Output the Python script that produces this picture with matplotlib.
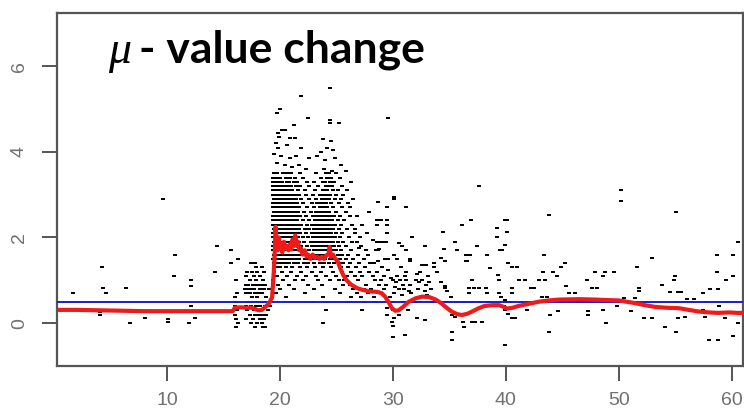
import matplotlib
matplotlib.use("Agg")
import matplotlib.pyplot as plt

# ---- scattered observations (x, y) ----
sparse_x = [1.65, 4.2, 4.3, 4.6, 4.1, 4.1, 6.4, 6.7, 8.05, 9.65, 10.6, 10.7, 10.1, 10.1,
            12.1, 12.1, 12.1, 11.9, 12.5, 14.4, 14.2, 15.7, 16.3, 15.7,
            19.7, 20.0, 21.9, 24.4, 22.5, 24.4, 24.4, 25.2, 21.2, 20.2, 20.4, 19.8, 19.9,
            20.9, 21.3, 19.6, 19.8, 20.6, 21.9, 23.8, 24.5, 24.2, 24.7, 23.6, 19.5, 20.1,
            20.9, 21.4, 22.6, 23.3, 24.0, 24.9, 25.4, 19.7, 20.4, 21.1, 21.7, 22.3, 23.9,
            24.6, 25.8, 26.3, 25.9, 26.5,
            26.2, 26.8, 27.3, 27.9, 28.6, 28.9, 28.6, 29.5, 29.5, 29.5, 28.7, 29.5, 30.1,
            30.1, 31.2, 26.6, 27.1, 27.7, 28.2, 28.6, 28.8, 29.0, 29.4, 28.5, 28.7, 28.8,
            29.6, 29.3, 28.7, 26.4, 27.0, 27.8, 28.3, 29.0, 29.6, 28.6, 29.2, 29.8, 28.9,
            29.4, 29.6, 37.6,
            30.5, 30.8, 31.2, 31.7, 31.5, 31.5, 31.2, 30.7, 30.4, 30.1, 32.8, 32.4, 32.6,
            32.9, 33.6, 33.9, 34.3, 34.6, 34.6, 33.6, 34.6, 34.3, 34.5, 35.5, 35.7, 34.4,
            34.8, 35.1,
            30.0, 30.3, 30.6, 30.9, 31.2, 31.5, 32.0, 32.3, 32.6, 32.9, 33.2, 30.2, 30.5,
            31.0, 31.4, 32.2, 32.8, 33.4, 30.1, 30.8, 31.6, 32.5, 33.0, 30.4, 31.1, 32.1,
            33.1, 29.7, 29.9, 31.0, 32.0, 33.5,
            29.5, 29.5, 30.0, 30.1, 29.9, 30.0, 30.0, 31.1, 32.1, 32.8, 30.5, 31.3,
            36.1, 36.9, 39.9, 40.1, 43.8, 50.2, 50.2, 55.1, 39.2, 39.2, 40.1, 39.9, 39.5,
            39.7, 40.2, 40.5, 41.0, 43.4, 45.2, 44.9, 52.9, 51.6, 58.7, 60.1, 60.6, 58.7,
            60.1, 59.5, 58.05, 58.8, 57.5, 56.7, 56.0, 55.2, 55.5, 54.9, 55.0, 53.8, 54.5,
            50.5, 51.4, 51.8, 51.8, 51.1, 49.8, 48.9, 48.6, 47.3, 47.3, 47.9, 48.8, 49.6,
            48.6, 47.2, 47.6, 48.1, 46.1, 45.6, 45.3, 44.5, 44.2, 43.3, 42.9, 43.5, 42.2,
            42.5, 43.2, 43.6, 43.9, 43.8, 44.6, 39.9, 41.2, 41.7, 41.9, 39.9, 40.2, 40.5,
            40.8, 39.8, 40.5, 40.5, 39.4, 39.3, 39.4, 39.6, 39.9, 38.6, 38.2, 38.3, 37.4,
            36.5, 36.8, 38.3, 36.5, 36.6, 37.0, 36.7, 36.7, 37.2, 37.6, 36.2, 36.3, 37.0,
            37.3, 37.9, 35.2, 35.2, 35.2, 35.5, 34.8, 35.6, 36.3, 37.0, 37.6, 38.4, 40.0,
            40.4, 43.3, 43.6, 51.2, 51.5, 55.1, 56.5, 57.7, 59.6, 60.6, 60.1, 59.4, 58.8,
            58.0, 58.9, 57.5, 57.6, 55.1, 54.1, 55.9, 55.2, 52.9, 52.2, 51.1, 51.6]
sparse_y = [0.71, 1.3, 0.81, 0.71, 0.2, 0.26, 0.81, 0.0, 0.12, 2.9, 1.1, 1.6, 0.03, 0.1,
            1.0, 0.87, 0.4, 0.0, 0.12, 1.8, 1.2, 1.7, 1.5, 1.4,
            4.9, 5.0, 5.3, 5.5, 4.8, 4.75, 4.68, 4.68, 4.62, 4.52, 4.52, 4.43, 4.35,
            4.33, 4.33, 4.2, 4.1, 4.15, 4.1, 4.3, 4.25, 4.1, 4.05, 4.0, 3.95, 3.9,
            3.85, 3.9, 3.85, 3.9, 3.8, 3.85, 3.7, 3.75, 3.7, 3.65, 3.7, 3.6, 3.6,
            3.55, 3.55, 3.3, 3.1, 2.9,
            2.7, 2.5, 2.3, 2.6, 2.4, 2.4, 2.3, 2.4, 2.3, 2.1, 2.83, 2.72, 2.95,
            2.9, 2.7, 2.2, 2.0, 2.1, 1.95, 1.9, 1.9, 1.9, 1.9, 1.7, 1.7, 1.72,
            1.5, 1.5, 1.45, 1.9, 1.75, 1.6, 1.4, 1.3, 1.25, 1.2, 1.1, 1.05, 1.0,
            0.9, 4.8, 3.2,
            1.87, 1.8, 1.7, 2.0, 1.5, 1.45, 1.2, 1.3, 1.5, 1.6, 1.8, 1.2, 1.35,
            1.35, 1.3, 1.2, 0.97, 0.87, 0.82, 1.4, 1.45, 1.52, 1.72, 1.9, 1.7, 2.13,
            0.75, 0.6,
            1.0, 0.95, 1.0, 0.9, 1.0, 0.9, 1.0, 0.95, 1.0, 0.9, 0.95, 0.85, 0.8,
            0.8, 0.75, 0.8, 0.75, 0.8, 0.7, 0.65, 0.7, 0.6, 0.65, 1.1, 1.1, 1.15,
            1.1, 0.6, 0.5, 0.5, 0.5, 0.5,
            0.2, 0.35, 0.3, 0.13, 0.03, -0.07, -0.33, -0.28, 0.13, 0.07, 0.2, 0.3,
            2.3, 2.4, 2.4, 2.4, 2.53, 3.1, 2.85, 2.6, 2.22, 2.0, 2.13, 1.83, 1.7,
            1.7, 1.41, 1.3, 1.3, 1.6, 1.41, 1.3, 1.52, 1.3, 1.6, 1.6, 1.9, 1.2,
            1.1, 1.0, 0.8, 0.8, 0.71, 0.56, 0.56, 0.73, 0.73, 1.0, 1.1, 0.89, 0.73,
            0.58, 0.58, 0.75, 0.82, 0.5, 0.4, 0.0, 0.3, 0.28, 0.2, 1.2, 1.2, 1.2,
            1.1, 1.0, 0.82, 0.82, 0.71, 0.71, 0.87, 1.1, 1.2, 1.2, 1.0, 1.0, 0.82,
            0.82, 0.61, 0.61, 0.18, -0.2, 0.28, -0.5, 1.0, 1.0, 0.3, 0.3, 0.22, 0.12,
            0.12, 0.4, 0.82, 0.71, 1.0, 1.12, 0.7, 0.6, 0.55, 1.28, 0.82, 0.7, 1.79,
            1.6, 1.6, 1.6, 1.45, 1.45, 1.0, 0.82, 0.71, 0.82, 0.82, 0.03, -0.09, 0.03,
            0.03, 0.03, -0.2, -0.4, 0.2, 0.15, 0.5, 0.5, 0.5, 0.5, 0.5, 0.5, 0.5,
            0.5, 0.5, 0.5, 0.5, 0.5, 0.5, 0.5, 0.5, 0.5, 0.0, -0.3, 0.12, -0.4,
            -0.4, 0.4, 0.3, 0.15, -0.2, -0.09, 0.15, 0.13, 0.13, 0.13, 0.28, 0.45]

# ---- points just before the jump (x 16 - 19) ----
pre_x = [16.3, 17.4, 17.8, 17.9, 18.4, 17.1, 17.5, 18.0, 18.6, 17.0, 17.7, 18.2, 16.1,
         17.3, 17.9, 18.5, 17.0, 17.2, 17.6, 18.0, 18.3, 18.7, 16.9, 17.1, 17.4, 17.7,
         18.2, 18.6, 19.0, 16.2, 17.0, 17.3, 17.8, 18.1, 18.4, 16.0, 17.5, 18.0, 18.8,
         16.1, 17.2, 17.6, 17.9, 18.3, 18.6, 16.0, 17.0, 17.4, 17.9, 18.2, 18.7, 19.1,
         16.2, 17.1, 17.7, 18.0, 18.4, 18.9, 16.0, 17.3, 17.8, 18.1, 18.5, 18.8, 16.1,
         17.0, 17.6, 18.2, 18.6, 16.3, 17.4, 18.0, 18.4, 16.1, 17.8, 18.5, 18.7]
pre_y = [1.5, 1.4, 1.4, 1.3, 1.3, 1.2, 1.2, 1.2, 1.2, 1.1, 1.1, 1.1, 1.0,
         1.0, 1.0, 1.0, 0.9, 0.9, 0.9, 0.9, 0.9, 0.9, 0.8, 0.8, 0.8, 0.8,
         0.8, 0.8, 0.8, 0.7, 0.7, 0.7, 0.7, 0.7, 0.7, 0.6, 0.6, 0.6, 0.6,
         0.5, 0.5, 0.5, 0.5, 0.5, 0.5, 0.4, 0.4, 0.4, 0.4, 0.4, 0.4, 0.4,
         0.3, 0.3, 0.3, 0.3, 0.3, 0.3, 0.2, 0.2, 0.2, 0.2, 0.2, 0.2, 0.1,
         0.1, 0.1, 0.1, 0.1, 0.0, 0.0, 0.0, 0.0, -0.1, -0.1, -0.1, -0.1]

# ---- main burst: values recorded on a 0.1 grid, one list of x per level ----
row_levels = [3.5, 3.4, 3.3, 3.2, 3.1, 3.0, 2.9, 2.8, 2.7, 2.6, 2.5, 2.4, 2.3, 2.2, 2.1,
              2.0, 1.9, 1.8, 1.7, 1.6, 1.5, 1.4, 1.3, 1.2, 1.1, 1.0, 0.9, 0.8, 0.7,
              0.6, 0.5, 0.3, 0.0]
row_x = [
    [19.5, 19.7, 20.3, 20.6, 21.0, 21.8, 23.2, 24.1, 24.3, 25.0],
    [19.4, 19.6, 19.8, 20.0, 20.5, 20.9, 21.3, 22.0, 23.6, 24.2, 24.5, 25.3],
    [19.4, 19.6, 19.8, 20.0, 20.2, 20.6, 20.8, 21.2, 21.5, 22.4, 23.0, 23.8, 24.0, 24.4, 24.8],
    [19.4, 19.6, 19.8, 20.0, 20.2, 20.4, 20.7, 21.0, 21.4, 21.8, 22.6, 23.4, 24.1, 24.3,
     24.6, 25.5],
    [19.4, 19.6, 19.8, 20.0, 20.2, 20.4, 20.6, 20.8, 21.1, 21.6, 22.2, 23.1, 23.8, 24.0,
     24.2, 24.7, 25.1],
    [19.4, 19.6, 19.8, 20.0, 20.2, 20.4, 20.6, 20.8, 21.0, 21.3, 21.7, 22.3, 22.9, 23.5,
     23.9, 24.1, 24.4, 25.0, 25.6],
    [19.5, 19.7, 19.9, 20.1, 20.3, 20.5, 20.7, 20.9, 21.1, 21.4, 21.9, 22.6, 23.2, 23.7,
     24.0, 24.3, 24.9, 25.4],
    [19.4, 19.6, 19.8, 20.0, 20.2, 20.4, 20.6, 20.8, 21.0, 21.2, 21.5, 22.0, 22.8, 23.3,
     23.6, 23.8, 24.1, 24.5, 25.2, 26.0],
    [19.4, 19.6, 19.8, 20.0, 20.2, 20.4, 20.6, 20.8, 21.0, 21.2, 21.4, 21.7, 22.4, 23.0,
     23.5, 23.7, 24.0, 24.2, 24.7, 25.5],
    [19.5, 19.7, 19.9, 20.1, 20.3, 20.5, 20.7, 20.9, 21.1, 21.3, 21.6, 22.1, 22.7, 23.2,
     23.4, 23.6, 23.8, 24.0, 24.3, 25.0, 25.8],
    [19.4, 19.6, 19.8, 20.0, 20.2, 20.4, 20.6, 20.8, 21.0, 21.2, 21.4, 21.8, 22.3, 22.9,
     23.3, 23.5, 23.7, 23.9, 24.1, 24.4, 24.8, 25.3, 26.2],
    [19.4, 19.6, 19.8, 20.0, 20.2, 20.4, 20.6, 20.8, 21.0, 21.2, 21.5, 22.0, 22.6, 23.1,
     23.3, 23.5, 23.7, 23.9, 24.1, 24.3, 24.6, 25.1, 25.7],
    [19.4, 19.6, 19.8, 20.0, 20.2, 20.4, 20.6, 20.8, 21.0, 21.3, 21.6, 21.9, 22.4, 22.8,
     23.2, 23.4, 23.6, 23.8, 24.0, 24.2, 24.5, 24.9, 25.4, 26.4],
    [19.5, 19.7, 19.9, 20.1, 20.3, 20.5, 20.7, 20.9, 21.1, 21.4, 21.7, 22.2, 22.6, 23.0,
     23.3, 23.5, 23.7, 23.9, 24.1, 24.4, 24.7, 25.2, 25.9],
    [19.4, 19.6, 19.8, 20.0, 20.2, 20.4, 20.6, 20.8, 21.0, 21.2, 21.5, 21.8, 22.3, 22.8,
     23.1, 23.3, 23.5, 23.7, 23.9, 24.2, 24.5, 25.0, 25.5, 26.6],
    [19.4, 19.6, 19.8, 20.0, 20.2, 20.4, 20.6, 20.8, 21.0, 21.3, 21.6, 22.0, 22.5, 22.9,
     23.2, 23.4, 23.6, 23.8, 24.0, 24.3, 24.6, 24.9, 25.3, 26.1],
    [19.5, 19.7, 19.9, 20.1, 20.3, 20.5, 20.7, 20.9, 21.1, 21.4, 21.7, 22.1, 22.7, 23.0,
     23.3, 23.5, 23.7, 23.9, 24.1, 24.4, 24.7, 25.1, 25.6, 26.8],
    [19.4, 19.6, 19.8, 20.0, 20.2, 20.4, 20.6, 20.8, 21.0, 21.2, 21.5, 21.9, 22.4, 22.8,
     23.1, 23.4, 23.6, 23.8, 24.0, 24.2, 24.5, 24.8, 25.2, 25.8, 27.2],
    [19.4, 19.6, 19.8, 20.0, 20.2, 20.4, 20.6, 20.8, 21.0, 21.3, 21.6, 22.0, 22.6, 23.0,
     23.3, 23.5, 23.7, 23.9, 24.2, 24.6, 25.0, 25.4, 26.3, 27.6],
    [19.5, 19.7, 19.9, 20.1, 20.3, 20.5, 20.7, 20.9, 21.1, 21.4, 21.8, 22.3, 22.7, 23.1,
     23.4, 23.6, 23.8, 24.0, 24.3, 24.7, 25.1, 25.5, 26.0, 26.9],
    [19.4, 19.6, 19.8, 20.0, 20.2, 20.4, 20.7, 21.0, 21.3, 21.7, 22.2, 22.6, 23.0, 23.4,
     23.7, 24.0, 24.4, 24.8, 25.3, 25.8, 26.5, 27.4],
    [19.5, 19.8, 20.1, 20.4, 20.8, 21.2, 21.6, 22.1, 22.5, 23.0, 23.5, 23.9, 24.3, 24.8,
     25.2, 25.6, 26.2, 27.0, 28.0],
    [19.6, 20.0, 20.5, 21.1, 21.8, 22.4, 23.1, 23.8, 24.5, 25.4, 26.0, 26.7, 27.5],
    [19.5, 20.2, 21.0, 21.9, 22.8, 23.6, 24.7, 25.5, 26.3, 27.1, 27.9, 28.6],
    [19.7, 20.6, 21.5, 22.3, 23.2, 24.1, 25.0, 25.9, 26.6, 27.3, 28.2],
    [19.4, 20.3, 21.3, 22.0, 23.4, 24.4, 25.2, 25.7, 26.9, 28.4, 28.9],
    [19.8, 20.8, 22.5, 23.7, 25.6, 26.2, 27.6, 28.8],
    [20.0, 21.2, 23.0, 24.9, 26.5, 27.4, 28.1, 29.2],
    [19.6, 22.2, 25.3, 26.8, 27.8, 28.7],
    [20.5, 23.8, 26.3, 27.2, 28.3],
    [22.9, 24.2, 26.0, 27.4, 28.4],
    [24.1, 27.3],
    [23.8],
]

# ---- smoothed trend ----
trend_x = [0.25, 2.0, 4.0, 6.0, 8.0, 10.0, 12.0, 14.0, 15.8, 16.0, 16.5, 17.0, 17.5, 17.8,
           18.1, 18.4, 18.7, 19.0, 19.2, 19.3, 19.45, 19.55, 19.6, 19.7, 19.8, 19.9, 20.0,
           20.1, 20.2, 20.35, 20.5, 20.6, 20.75, 20.9, 21.0, 21.1, 21.2, 21.35, 21.5, 21.6,
           21.7, 21.85, 22.0, 22.2, 22.35, 22.5, 22.7, 22.9, 23.1, 23.3, 23.5, 23.7, 23.9,
           24.1, 24.3, 24.4, 24.5, 24.7, 24.9, 25.1, 25.3, 25.6, 25.9, 26.3, 26.8, 27.4,
           28.0, 28.6, 29.0, 29.3, 29.6, 29.9, 30.2, 30.5, 30.9, 31.4, 32.0, 32.6, 33.2,
           33.8, 34.3, 34.8, 35.2, 35.7, 36.1, 36.6, 37.0, 37.6, 38.1, 38.8, 39.4, 39.8,
           40.1, 40.6, 41.1, 42.0, 42.9, 43.8, 44.7, 46.5, 48.0, 48.8, 50.0, 50.7, 51.4,
           52.3, 53.2, 54.2, 55.3, 56.2, 57.1, 58.0, 58.8, 59.8, 60.5, 61.0]
trend_y = [0.31, 0.31, 0.3, 0.29, 0.28, 0.28, 0.28, 0.28, 0.28, 0.36, 0.37, 0.36, 0.36, 0.33,
           0.3, 0.31, 0.38, 0.45, 0.55, 0.6, 1.2, 1.75, 2.25, 1.9, 1.7, 2.0, 1.75,
           1.85, 1.65, 1.9, 1.75, 1.8, 1.7, 1.85, 1.72, 1.95, 1.8, 2.05, 1.8, 1.9,
           1.7, 1.75, 1.6, 1.7, 1.55, 1.6, 1.5, 1.6, 1.52, 1.55, 1.5, 1.55, 1.5,
           1.58, 1.62, 1.78, 1.55, 1.6, 1.5, 1.45, 1.3, 1.12, 1.0, 0.9, 0.82, 0.77,
           0.74, 0.73, 0.7, 0.62, 0.5, 0.35, 0.29, 0.3, 0.38, 0.5, 0.58, 0.62, 0.61,
           0.55, 0.46, 0.35, 0.27, 0.21, 0.19, 0.22, 0.27, 0.35, 0.4, 0.42, 0.42, 0.38,
           0.34, 0.36, 0.4, 0.45, 0.5, 0.53, 0.55, 0.56, 0.55, 0.54, 0.53, 0.5, 0.47,
           0.42, 0.38, 0.36, 0.35, 0.31, 0.27, 0.25, 0.24, 0.25, 0.24, 0.24]

reference_level = 0.5
x_ticks = [10, 20, 30, 40, 50, 60]
y_ticks = [0, 2, 4, 6]

# flatten the per-level lists
burst_x, burst_y = [], []
for lvl, xs in zip(row_levels, row_x):
    burst_x.extend(xs)
    burst_y.extend([lvl] * len(xs))

W, H = 744, 415
fig = plt.figure(figsize=(W / 100, H / 100), dpi=100)
ax = fig.add_axes([57 / W, (H - 366) / H, (743 - 57) / W, (366 - 13) / H])

# slightly flattened square dot, so stacked levels stay separated
dot = [(-1.0, -0.8), (1.0, -0.8), (1.0, 0.8), (-1.0, 0.8), (-1.0, -0.8)]
pt = dict(marker=dot, s=5.8, c="black", linewidths=0, zorder=2)
ax.scatter(sparse_x, sparse_y, **pt)
ax.scatter(pre_x, pre_y, **pt)
ax.scatter(burst_x, burst_y, **pt)

ax.axhline(reference_level, color="#1a1ad6", lw=1.4, zorder=3)
ax.plot(trend_x, trend_y, color="#ee1b1b", lw=3.0, solid_joinstyle="round", zorder=4)

ax.set_xlim(0.25, 61.0)
ax.set_ylim(-1.0, 7.24)

axis_grey = "#555555"
for sp in ax.spines.values():
    sp.set_color(axis_grey)
    sp.set_linewidth(1.6)

ax.set_xticks(x_ticks)
ax.set_yticks(y_ticks)
ax.tick_params(axis="both", direction="out", length=11, width=1.4, color=axis_grey,
               labelcolor="#707070", labelsize=14)
ax.tick_params(axis="x", pad=8)
ax.tick_params(axis="y", pad=10)
for lab in ax.get_yticklabels():
    lab.set_rotation(90)
    lab.set_va("center")
for lab in ax.get_xticklabels() + ax.get_yticklabels():
    lab.set_fontfamily("Liberation Sans")

# heading: italic mu followed by bold text
fig.text(108 / W, (H - 63) / H, "μ", family="Liberation Serif", style="italic",
         fontsize=33, color="black", va="baseline", ha="left")
fig.text(139 / W, (H - 63) / H, "- value change", family="Lato", weight="bold",
         fontsize=32, color="black", va="baseline", ha="left")

fig.savefig("out.png", dpi=100, facecolor="white")
